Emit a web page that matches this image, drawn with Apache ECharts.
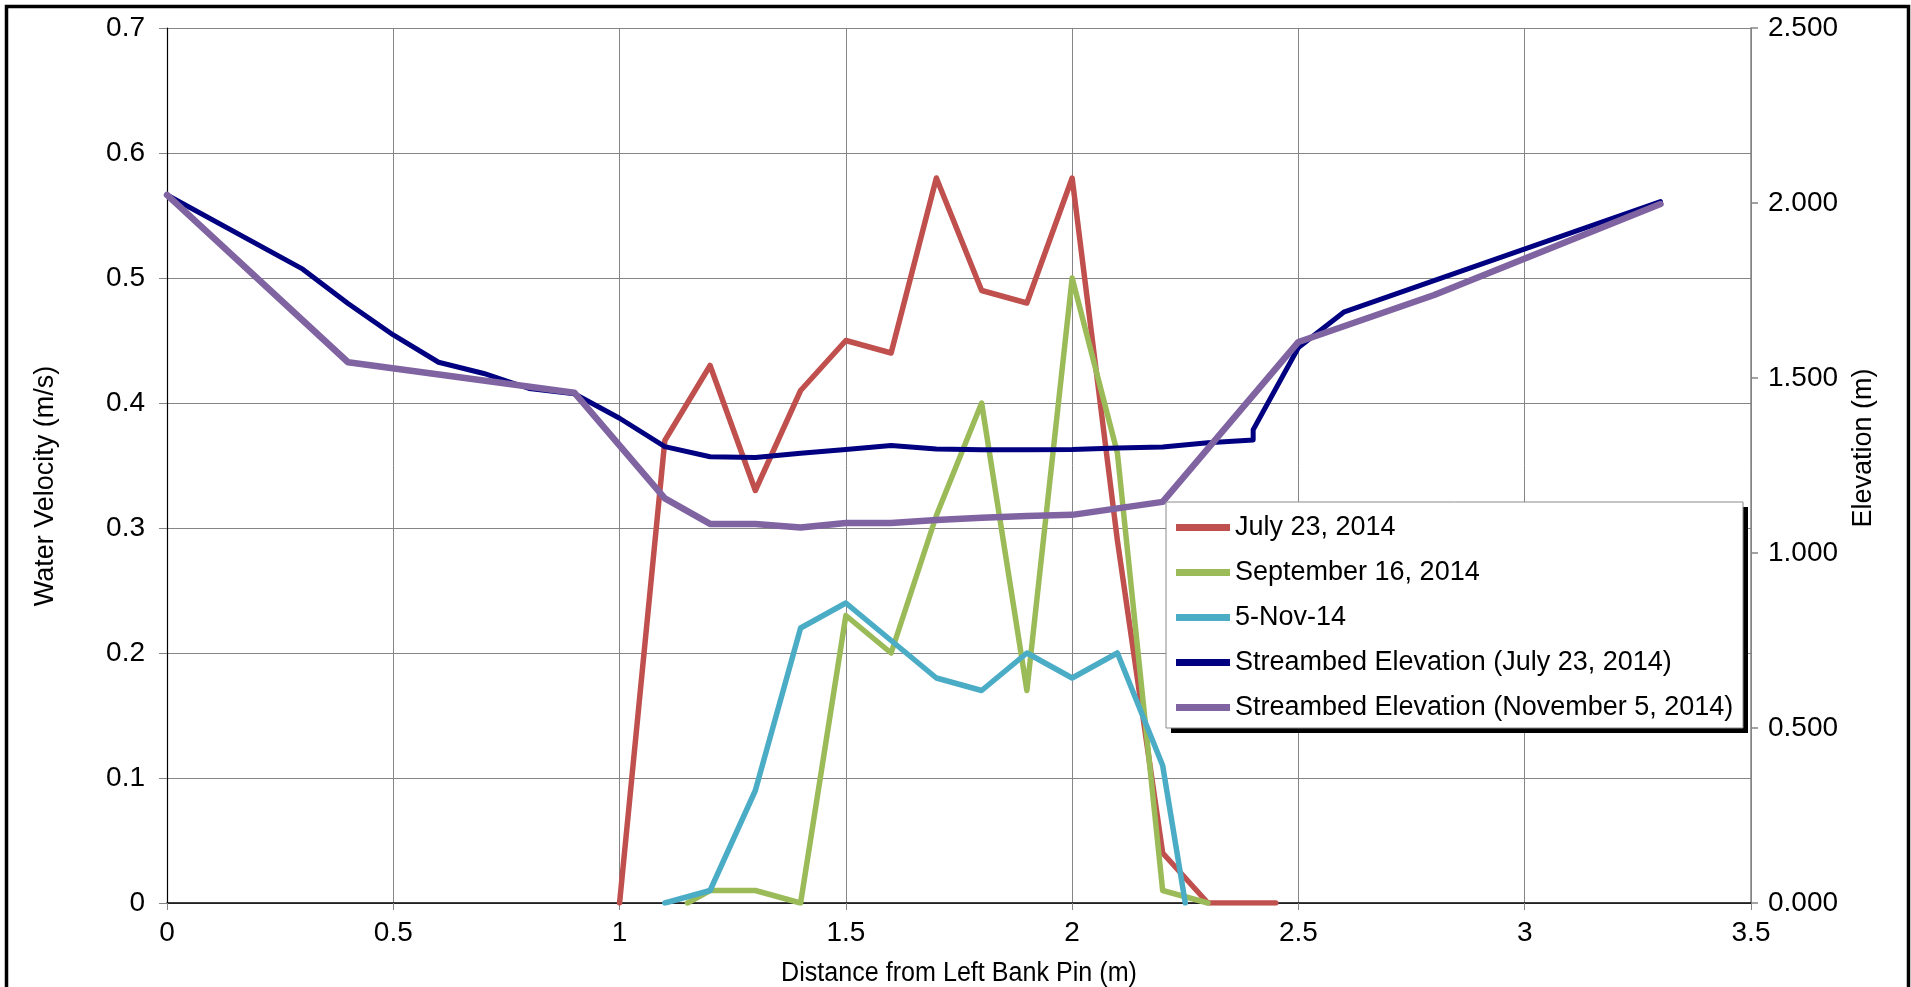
<!DOCTYPE html>
<html>
<head>
<meta charset="utf-8">
<title>Water Velocity and Streambed Elevation</title>
<script src="https://cdn.jsdelivr.net/npm/echarts@6/dist/echarts.min.js"></script>
<style>
  html, body { margin: 0; padding: 0; background: #ffffff; }
  #chart { width: 1911px; height: 987px; }
</style>
</head>
<body>
<div id="chart"></div>
<script>
// Velocity profiles (m/s) against distance from the left bank pin (m)
const julyDist = [1.0, 1.1, 1.2, 1.3, 1.4, 1.5, 1.6, 1.7, 1.8, 1.9, 2.0, 2.1, 2.2, 2.3, 2.45];
const julyVel  = [0, 0.37, 0.43, 0.33, 0.41, 0.45, 0.44, 0.58, 0.49, 0.48, 0.58, 0.29, 0.04, 0, 0];

const septDist = [1.15, 1.2, 1.3, 1.4, 1.5, 1.6, 1.7, 1.8, 1.9, 2.0, 2.1, 2.2, 2.3];
const septVel  = [0, 0.01, 0.01, 0, 0.23, 0.2, 0.31, 0.4, 0.17, 0.5, 0.36, 0.01, 0];

const novDist = [1.1, 1.2, 1.3, 1.4, 1.5, 1.6, 1.7, 1.8, 1.9, 2.0, 2.1, 2.2, 2.25];
const novVel  = [0, 0.01, 0.09, 0.22, 0.24, 0.21, 0.18, 0.17, 0.2, 0.18, 0.2, 0.11, 0];

// Streambed elevation (m) surveys
const bedJulyDist = [0, 0.3, 0.4, 0.5, 0.6, 0.7, 0.8, 0.9, 1.0, 1.1, 1.2, 1.3, 1.4, 1.5, 1.6, 1.7, 1.8, 1.9, 2.0, 2.1, 2.2, 2.2, 2.3, 2.4, 2.4, 2.5, 2.6, 3.3];
const bedJulyElev = [2.023, 1.811, 1.713, 1.623, 1.545, 1.513, 1.470, 1.455, 1.385, 1.304, 1.275, 1.273, 1.285, 1.296, 1.307, 1.297, 1.295, 1.295, 1.296, 1.300, 1.303, 1.307, 1.315, 1.323, 1.352, 1.587, 1.688, 2.004];

const bedNovDist = [0, 0.4, 0.9, 1.1, 1.2, 1.3, 1.4, 1.5, 1.6, 1.7, 1.8, 1.9, 2.0, 2.2, 2.5, 2.8, 3.3];
const bedNovElev = [2.023, 1.545, 1.458, 1.156, 1.083, 1.083, 1.073, 1.086, 1.086, 1.094, 1.101, 1.106, 1.109, 1.146, 1.603, 1.737, 1.997];

// Axis ranges
const xTicks = { min: 0, max: 3.5, step: 0.5 };
const velTicks = { min: 0, max: 0.7, step: 0.1 };
const elevTicks = { min: 0, max: 2.5, step: 0.5 };

const seriesNames = [
  'July 23, 2014',
  'September 16, 2014',
  '5-Nov-14',
  'Streambed Elevation (July 23, 2014)',
  'Streambed Elevation (November 5, 2014)'
];
const seriesColors = ['#C0504D', '#9BBB59', '#4BACC6', '#000080', '#8064A2'];

const pairs = (xs, ys) => xs.map((x, i) => [x, ys[i]]);

const FONT = "'Liberation Sans', Arial, Helvetica, sans-serif";
const GRID_COLOR = '#858585';

function lineSeries(idx, data, axis, width) {
  return {
    name: seriesNames[idx],
    type: 'line',
    yAxisIndex: axis,
    data: data,
    showSymbol: false,
    symbol: 'none',
    silent: true,
    lineStyle: { color: seriesColors[idx], width: width, cap: 'round', join: 'round' },
    itemStyle: { color: seriesColors[idx] }
  };
}

const chart = echarts.init(document.getElementById('chart'), null, { renderer: 'canvas' });

chart.setOption({
  animation: false,
  backgroundColor: '#ffffff',
  textStyle: { fontFamily: FONT },
  grid: { left: 167, right: 160, top: 28, bottom: 84, containLabel: false },
  xAxis: {
    type: 'value',
    min: xTicks.min, max: xTicks.max, interval: xTicks.step,
    axisLine: { show: true, onZero: false, lineStyle: { color: '#000000', width: 1.5 } },
    axisTick: { show: true, length: 7, lineStyle: { color: GRID_COLOR } },
    axisLabel: { color: '#000000', fontSize: 28, fontFamily: FONT, margin: 16 },
    splitLine: { show: true, lineStyle: { color: GRID_COLOR, width: 1 } }
  },
  yAxis: [
    {
      type: 'value',
      min: velTicks.min, max: velTicks.max, interval: velTicks.step,
      axisLine: { show: true, onZero: false, lineStyle: { color: '#000000', width: 1.2 } },
      axisTick: { show: true, length: 8, lineStyle: { color: GRID_COLOR } },
      axisLabel: { color: '#000000', fontSize: 28, fontFamily: FONT, margin: 22 },
      splitLine: { show: true, lineStyle: { color: GRID_COLOR, width: 1 } }
    },
    {
      type: 'value',
      position: 'right',
      min: elevTicks.min, max: elevTicks.max, interval: elevTicks.step,
      axisLine: { show: true, onZero: false, lineStyle: { color: GRID_COLOR, width: 1.5 } },
      axisTick: { show: true, length: 7, lineStyle: { color: GRID_COLOR, width: 1.5 } },
      axisLabel: {
        color: '#000000', fontSize: 28, fontFamily: FONT, margin: 17,
        formatter: v => v.toFixed(3)
      },
      splitLine: { show: false }
    }
  ],
  legend: {
    z: 80,
    orient: 'vertical',
    left: 1176,
    top: 514,
    padding: 0,
    itemGap: 18,
    itemWidth: 54,
    itemHeight: 7,
    icon: 'rect',
    selectedMode: false,
    textStyle: { color: '#000000', fontSize: 27, fontFamily: FONT, lineHeight: 27, padding: [0, 0, 0, 0] },
    data: seriesNames
  },
  graphic: [
    // outer chart frame
    {
      type: 'rect', z: 100, silent: true,
      shape: { x: 6.5, y: 6.5, width: 1902, height: 1010 },
      style: { fill: 'none', stroke: '#000000', lineWidth: 3.5 }
    },
    // legend shadow and box
    {
      type: 'rect', z: 50, silent: true,
      shape: { x: 1171, y: 507, width: 577, height: 226 },
      style: { fill: '#000000' }
    },
    {
      type: 'rect', z: 51, silent: true,
      shape: { x: 1166, y: 502, width: 577, height: 226 },
      style: { fill: '#ffffff', stroke: '#8a8a8a', lineWidth: 1 }
    },
    // axis titles
    {
      type: 'text', z: 60, silent: true,
      x: 46, y: 486, rotation: Math.PI / 2,
      style: { text: 'Water Velocity (m/s)', font: '27px ' + FONT, fill: '#000000', align: 'center', verticalAlign: 'middle' }
    },
    {
      type: 'text', z: 60, silent: true,
      x: 1864, y: 448, rotation: Math.PI / 2,
      style: { text: 'Elevation (m)', font: '27px ' + FONT, fill: '#000000', align: 'center', verticalAlign: 'middle' }
    },
    {
      type: 'text', z: 60, silent: true,
      x: 959, y: 974, scaleX: 0.93,
      style: { text: 'Distance from Left Bank Pin (m)', font: '27px ' + FONT, fill: '#000000', align: 'center', verticalAlign: 'middle' }
    }
  ],
  series: [
    lineSeries(0, pairs(julyDist, julyVel), 0, 5.5),
    lineSeries(1, pairs(septDist, septVel), 0, 5.5),
    lineSeries(2, pairs(novDist, novVel), 0, 5.5),
    lineSeries(3, pairs(bedJulyDist, bedJulyElev), 1, 5),
    lineSeries(4, pairs(bedNovDist, bedNovElev), 1, 6.5)
  ]
});
</script>
</body>
</html>
